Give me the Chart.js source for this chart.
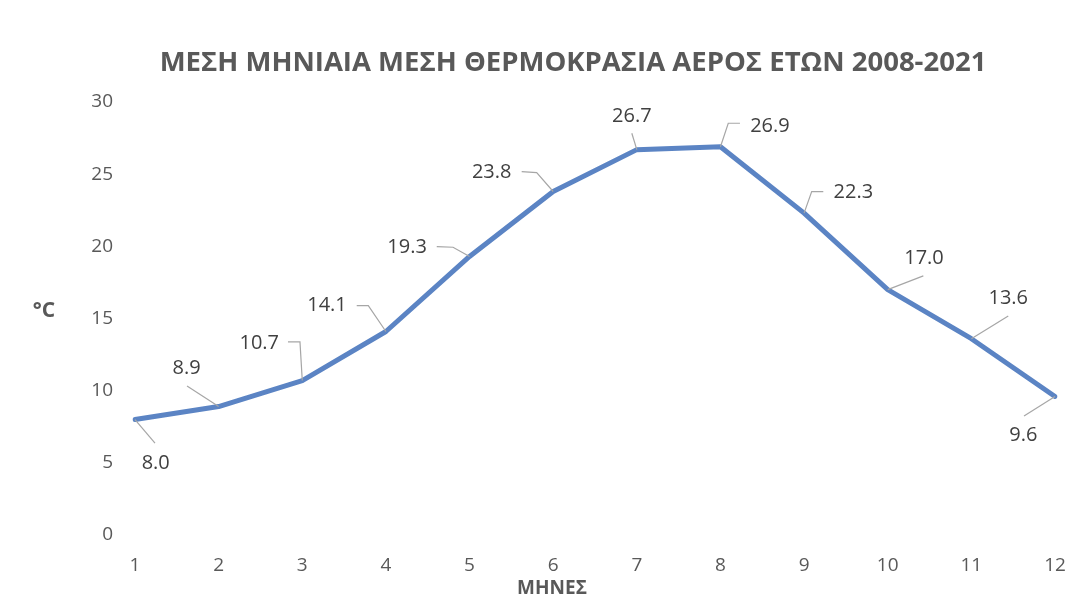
<!DOCTYPE html>
<html>
<head>
<meta charset="utf-8">
<script src="https://cdn.jsdelivr.net/npm/chart.js@4/dist/chart.umd.min.js"></script>
<style>
  html, body { margin: 0; padding: 0; background: #ffffff; }
  #wrap { width: 1070px; height: 610px; }
</style>
</head>
<body>
<div id="wrap"><canvas id="c" width="1070" height="610"></canvas></div>
<script>
// ---- data ----
const months = ['1','2','3','4','5','6','7','8','9','10','11','12'];
const temps = [8.0, 8.9, 10.7, 14.1, 19.3, 23.8, 26.7, 26.9, 22.3, 17.0, 13.6, 9.6];
const yTicks = [0, 5, 10, 15, 20, 25, 30];
const titleText = 'ΜΕΣΗ ΜΗΝΙΑΙΑ ΜΕΣΗ ΘΕΡΜΟΚΡΑΣΙΑ ΑΕΡΟΣ ΕΤΩΝ 2008-2021';
const yTitle = '°C';
const xTitle = 'ΜΗΝΕΣ';

// ---- label placement (pixel offsets from each point; style only) ----
const labelOffsets = [
  [20.7, 43.4], [-32, -38.6], [-43, -37], [-58.9, -26], [-62.5, -9.5], [-61.5, -19.6],
  [-5, -33.7], [49.5, -20.8], [49.2, -20.7], [36.3, -31.7], [36.9, -40.8], [-31.7, 39]
];
const leaderPaths = [
  [[20, 23.7]], [[-31.6, -20.6]], [[-14.3, -38.6], [-2.3, -38.6]], [[-29.2, -25.8], [-17.6, -25.8]],
  [[-32.8, -9.8], [-16.5, -9.2]], [[-31.5, -19.9], [-16.5, -18.9]], [[-5, -16.4]],
  [[19.5, -23.5], [7.8, -23.5]], [[19.2, -21.5], [7.6, -21.5]], [[35.6, -13.7]], [[36.9, -22.8]], [[-31, 19.5]]
];

const FONT = '"Open Sans", "DejaVu Sans", sans-serif';
const TEXT_GREY = '#595959';

const decorPlugin = {
  id: 'decor',
  afterDatasetsDraw(chart) {
    const ctx = chart.ctx;
    const meta = chart.getDatasetMeta(0);
    ctx.save();
    // leader lines
    ctx.strokeStyle = '#a6a6a6';
    ctx.lineWidth = 1.2;
    meta.data.forEach((pt, i) => {
      const path = leaderPaths[i];
      ctx.beginPath();
      ctx.moveTo(pt.x + path[0][0], pt.y + path[0][1]);
      for (let k = 1; k < path.length; k++) ctx.lineTo(pt.x + path[k][0], pt.y + path[k][1]);
      ctx.lineTo(pt.x, pt.y);
      ctx.stroke();
    });
    // data labels
    ctx.fillStyle = '#404040';
    ctx.font = '20px ' + FONT;
    ctx.textAlign = 'center';
    ctx.textBaseline = 'middle';
    meta.data.forEach((pt, i) => {
      ctx.fillText(temps[i].toFixed(1), pt.x + labelOffsets[i][0], pt.y + labelOffsets[i][1]);
    });
    // title
    ctx.fillStyle = TEXT_GREY;
    ctx.font = 'bold 100px ' + FONT;
    const w100 = ctx.measureText(titleText).width;
    const size = Math.min(28, 100 * 826 / w100);
    ctx.font = 'bold ' + size.toFixed(1) + 'px ' + FONT;
    ctx.fillText(titleText, 573, 63);
    // axis titles
    ctx.font = 'bold 21px ' + FONT;
    ctx.fillText(yTitle, 44, 311);
    ctx.font = 'bold 19px ' + FONT;
    ctx.fillText(xTitle, 552, 589);
    ctx.restore();
  }
};

new Chart(document.getElementById('c'), {
  type: 'line',
  data: {
    labels: months,
    datasets: [{
      data: temps,
      borderColor: '#5b84c4',
      borderWidth: 5,
      borderJoinStyle: 'round',
      borderCapStyle: 'round',
      pointRadius: 0,
      pointHoverRadius: 0,
      tension: 0,
      fill: false
    }]
  },
  options: {
    responsive: false,
    animation: false,
    events: [],
    layout: { padding: { top: 102, right: 0, left: 0, bottom: 0 } },
    plugins: {
      legend: { display: false },
      title: { display: false },
      tooltip: { enabled: false }
    },
    scales: {
      x: {
        type: 'category',
        offset: false,
        grid: { display: false, drawTicks: false },
        border: { display: false },
        ticks: { color: TEXT_GREY, font: { family: FONT, size: 19 }, padding: 19, maxRotation: 0, autoSkip: false },
        afterFit(s) { s.height = 75; s.paddingRight = 15; }
      },
      y: {
        min: 0,
        max: 30,
        afterBuildTicks(s) { s.ticks = yTicks.map(v => ({ value: v })); },
        grid: { display: false, drawTicks: false },
        border: { display: false },
        ticks: { color: TEXT_GREY, font: { family: FONT, size: 19 }, padding: 22 },
        afterFit(s) { s.width = 135; }
      }
    }
  },
  plugins: [decorPlugin]
});
</script>
</body>
</html>
